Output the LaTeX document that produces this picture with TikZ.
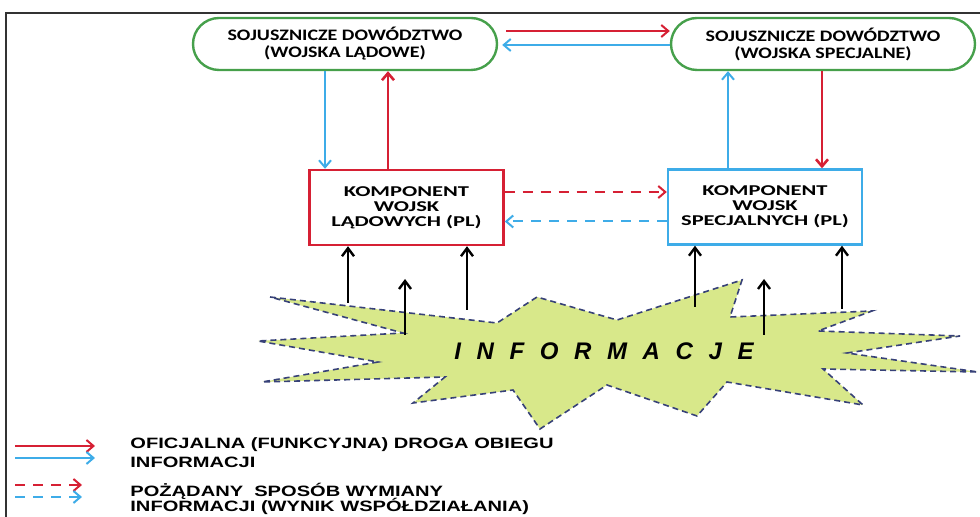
\documentclass[tikz,border=0pt]{standalone}
\usepackage{fontspec}
\usetikzlibrary{arrows.meta}
\setmainfont{Liberation Sans}
\newfontfamily\boxfont[FakeStretch=1.25]{Carlito}
\newfontfamily\compfont[FakeStretch=1.5]{Carlito}
\newfontfamily\legfont[FakeStretch=1.34]{Liberation Sans}
\newfontfamily\infofont[LetterSpace=65]{Liberation Sans}
\definecolor{linered}{RGB}{214,32,52}
\definecolor{lineblue}{RGB}{62,172,232}
\definecolor{linegreen}{RGB}{70,160,75}
\definecolor{burstfill}{RGB}{216,232,138}
\definecolor{burstedge}{RGB}{55,65,120}
\begin{document}
\begin{tikzpicture}[x=0.5pt,y=-0.5pt,
  hq/.style={draw=linegreen, line width=1.2pt, rounded corners=13pt, minimum width=152pt, minimum height=26pt, align=center, inner sep=0pt, font=\boxfont\bfseries\fontsize{8}{8.5}\selectfont},
  comp/.style={line width=1.2pt, minimum width=97pt, minimum height=37.5pt, align=center, inner sep=0pt, font=\compfont\bfseries\fontsize{7.5}{7.5}\selectfont},
  flow/.style={-{Straight Barb[length=3.5pt,width=6pt]}, line width=1pt},
  wish/.style={flow, dash pattern=on 5pt off 4pt},
  up/.style={-{Straight Barb[length=4pt,width=6pt]}, line width=1.2pt, black},
  legtext/.style={anchor=west, inner sep=0pt, font=\legfont\bfseries\fontsize{7.5}{7.5}\selectfont}]
\useasboundingbox (0,0) rectangle (980,517);
% frame
\draw[line width=1pt, black!80] (6,517) -- (6,13) -- (980,13);

% commands and components
\node[hq] (sdl) at (345,44) {SOJUSZNICZE DOWÓDZTWO\\(WOJSKA LĄDOWE)};
\node[hq] (sds) at (823,44) {SOJUSZNICZE DOWÓDZTWO\\(WOJSKA SPECJALNE)};
\node[comp, draw=linered] (kwl) at (406.5,207.5) {KOMPONENT\\WOJSK\\LĄDOWYCH (PL)};
\node[comp, draw=lineblue] (kws) at (765,207) {KOMPONENT\\WOJSK\\SPECJALNYCH (PL)};

% official way
\draw[flow, linered, shorten <=4pt] ([yshift=6.5pt]sdl.east) -- ([yshift=6.5pt]sdl.east -| sds.west);
\draw[flow, lineblue, shorten >=2pt] ([yshift=-0.5pt]sds.west) -- ([yshift=-0.5pt]sds.west -| sdl.east);
\draw[flow, lineblue] ([xshift=-10pt]sdl.south) -- ([xshift=-10pt]sdl.south |- kwl.north);
\draw[flow, linered, line width=1.3pt] ([xshift=-9.25pt]kwl.north) -- ([xshift=-9.25pt]kwl.north |- sdl.south);
\draw[flow, lineblue] ([xshift=-18.5pt]kws.north) -- ([xshift=-18.5pt]kws.north |- sds.south);
\draw[flow, linered, line width=1.3pt] ([xshift=-0.5pt]sds.south) -- ([xshift=-0.5pt]sds.south |- kws.north);

% wished way
\draw[wish, linered] ([yshift=7.75pt]kwl.east) -- ([yshift=7.75pt]kwl.east -| kws.west);
\draw[wish, lineblue] ([yshift=-7.25pt]kws.west) -- ([yshift=-7.25pt]kws.west -| kwl.east);

% information burst
\draw[burstedge, fill=burstfill, line width=0.8pt, dash pattern=on 3pt off 2pt]
  (270,297) -- (497,323) -- (537,297) -- (617,320) -- (742,280) -- (730,317)
  -- (872,311) -- (818,331) -- (960,336) -- (847,353) -- (978,372) -- (823,369)
  -- (863,405) -- (727,382) -- (697,416) -- (607,385) -- (540,429) -- (513,390)
  -- (413,403) -- (445,377) -- (262,382) -- (378,362) -- (258,341) -- (403,333) -- cycle;
\node[font=\infofont\bfseries\itshape\fontsize{12}{12}\selectfont, inner sep=0pt] (info) at (604,351) {INFORMACJE};

\coordinate (i1) at (348,303);
\coordinate (i2) at (405,335);
\coordinate (i2e) at (405,279);
\coordinate (i3) at (467,310);
\coordinate (i4) at (695,307);
\coordinate (i5) at (764,335);
\coordinate (i5e) at (764,279);
\coordinate (i6) at (842,309);
\draw[up] (i1) -- (i1 |- kwl.south);
\draw[up] (i2) -- (i2e);
\draw[up] (i3) -- (i3 |- kwl.south);
\draw[up] (i4) -- (i4 |- kws.south);
\draw[up] (i5) -- (i5e);
\draw[up] (i6) -- (i6 |- kws.south);

% legend
\coordinate (la) at (15,446);
\coordinate (lb) at (95,446);
\coordinate (lc) at (15,458);
\coordinate (ld) at (95,458);
\coordinate (le) at (15,485);
\coordinate (lf) at (82,485);
\coordinate (lg) at (15,497);
\coordinate (lh) at (82,497);
\draw[flow, linered] (la) -- (lb);
\draw[flow, lineblue] (lc) -- (ld);
\draw[wish, linered] (le) -- (lf);
\draw[wish, lineblue] (lg) -- (lh);
\node[legtext] (t1) at (130,445) {OFICJALNA (FUNKCYJNA) DROGA OBIEGU};
\node[legtext] (t2) at (130,462) {INFORMACJI};
\node[legtext] (t3) at (130,491) {POŻĄDANY\ \ SPOSÓB WYMIANY};
\node[legtext] (t4) at (130,506) {INFORMACJI (WYNIK WSPÓŁDZIAŁANIA)};
\end{tikzpicture}
\end{document}
